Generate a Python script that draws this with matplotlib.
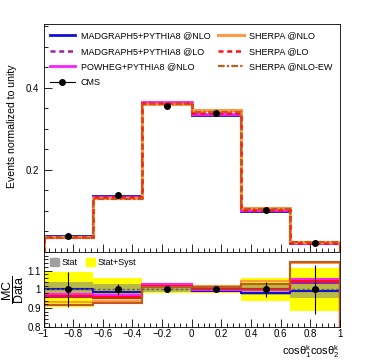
import numpy as np
import matplotlib
matplotlib.use('Agg')
import matplotlib.pyplot as plt
from matplotlib.lines import Line2D
from matplotlib.patches import Patch
from matplotlib.ticker import MultipleLocator

plt.rcParams['font.family'] = ['Liberation Sans', 'DejaVu Sans']
plt.rcParams['mathtext.fontset'] = 'custom'
plt.rcParams['mathtext.rm'] = 'Liberation Sans'
plt.rcParams['mathtext.it'] = 'Liberation Sans'

# bin edges of cos(theta1)cos(theta2)
edges = [-1, -2/3, -1/3, 0, 1/3, 2/3, 1]

# measured normalized distribution
data = [0.038, 0.139, 0.356, 0.338, 0.102, 0.021]

# MC / Data ratios
r_mg_nlo = [1.000, 0.986, 1.010, 0.990, 0.983, 0.990]
r_mg_lo = [0.960, 0.955, 1.015, 0.995, 1.000, 1.035]
r_powheg = [0.974, 0.970, 1.026, 0.997, 0.995, 1.053]
r_sh_nlo = [0.930, 0.940, 1.015, 1.020, 1.045, 1.140]
r_sh_lo = [0.965, 0.960, 1.020, 1.000, 1.000, 1.045]
r_sh_ew = [0.918, 0.928, 1.010, 1.010, 1.030, 1.144]

# relative uncertainties
stat_unc = [0.040, 0.030, 0.015, 0.015, 0.030, 0.045]
tot_unc = [0.093, 0.062, 0.020, 0.020, 0.060, 0.114]
data_err = [0.095, 0.030, 0.015, 0.012, 0.042, 0.130]

edges = np.array(edges)
data = np.array(data)
centers = 0.5 * (edges[1:] + edges[:-1])

models = [
    ('MADGRAPH5+PYTHIA8 @NLO', r_mg_nlo, '#1010d0', '-', 2.0),
    ('MADGRAPH5+PYTHIA8 @LO', r_mg_lo, '#a020a0', (0, (2, 1.5)), 1.8),
    ('POWHEG+PYTHIA8 @NLO', r_powheg, '#ff20ff', '-', 2.0),
    ('SHERPA @NLO', r_sh_nlo, '#ff9a40', '-', 2.2),
    ('SHERPA @LO', r_sh_lo, '#ff1010', (0, (2, 1.5)), 1.8),
    ('SHERPA @NLO-EW', r_sh_ew, '#c05a20', (0, (3, 1, 1, 1)), 1.6),
]

fig = plt.figure(figsize=(3.7, 3.6), dpi=100)
ax = fig.add_axes([0.1176, 0.3, 0.801, 0.6333])
rax = fig.add_axes([0.1176, 0.0925, 0.801, 0.2075])

# upper panel
handles = {}
for name, r, c, ls, lw in models:
    ax.stairs(data * np.array(r), edges, color=c, linestyle=ls, linewidth=lw)
    handles[name] = Line2D([], [], color=c, linestyle=ls, linewidth=lw)
ax.errorbar(centers, data, yerr=data * np.array(data_err) * 0.1, fmt='o',
            color='black', markersize=4, linewidth=0.8, zorder=5)
handles['CMS'] = Line2D([], [], color='black', marker='o', markersize=4, linewidth=0.8)

order = ['MADGRAPH5+PYTHIA8 @NLO', 'MADGRAPH5+PYTHIA8 @LO', 'POWHEG+PYTHIA8 @NLO', 'CMS',
         'SHERPA @NLO', 'SHERPA @LO', 'SHERPA @NLO-EW']
ax.legend([handles[k] for k in order], order, loc='upper left', ncol=2, frameon=False,
          fontsize=6.5, handlelength=2.8, handletextpad=0.6, columnspacing=0.9,
          labelspacing=0.72, bbox_to_anchor=(0.0, 0.995), borderaxespad=0.3)

ax.set_xlim(-1, 1)
ax.set_ylim(0, 0.555)
ax.set_yticks([0.2, 0.4])
ax.yaxis.set_minor_locator(MultipleLocator(0.05))
ax.xaxis.set_major_locator(MultipleLocator(0.2))
ax.xaxis.set_minor_locator(MultipleLocator(0.04))
ax.tick_params(axis='x', labelbottom=False)
ax.tick_params(which='both', direction='in', labelsize=7, width=0.6)
ax.tick_params(which='major', length=6)
ax.tick_params(which='minor', length=3)
ax.set_ylabel('Events normalized to unity', fontsize=7.6)
ax.yaxis.set_label_coords(-0.089, 0.55)
for s in ax.spines.values():
    s.set_linewidth(0.6)

# ratio panel
ones = np.ones(len(data))
rax.stairs(ones + np.array(tot_unc), edges, baseline=ones - np.array(tot_unc),
           fill=True, color='#ffff00', linewidth=0)
rax.stairs(ones + np.array(stat_unc), edges, baseline=ones - np.array(stat_unc),
           fill=True, color='#808080', alpha=0.55, linewidth=0)
rax.axhline(1.0, color='#606060', linestyle=(0, (2, 1.5)), linewidth=1.0)
for name, r, c, ls, lw in models:
    rax.stairs(r, edges, color=c, linestyle='-', linewidth=1.5)
rax.errorbar(centers, ones, yerr=data_err, fmt='o', color='black', markersize=4,
             linewidth=0.8, zorder=5)
rax.legend([Patch(color='#a0a0a0'), Patch(color='#ffff00')], ['Stat', 'Stat+Syst'],
           loc='upper left', ncol=2, frameon=False, fontsize=6.5, handlelength=1.0,
           handleheight=1.0, handletextpad=0.3, columnspacing=0.9,
           bbox_to_anchor=(0.0, 1.0), borderaxespad=0.3)

rax.set_xlim(-1, 1)
rax.set_ylim(0.8, 1.2)
rax.set_yticks([0.8, 0.9, 1.0, 1.1])
rax.set_yticklabels(['0.8', '0.9', '1', '1.1'])
rax.yaxis.set_minor_locator(MultipleLocator(0.02))
rax.xaxis.set_minor_locator(MultipleLocator(0.04))
rax.set_xticks([-1, -0.8, -0.6, -0.4, -0.2, 0, 0.2, 0.4, 0.6, 0.8, 1])
rax.set_xticklabels(['\u22121', '\u22120.8', '\u22120.6', '\u22120.4', '\u22120.2', '0',
                     '0.2', '0.4', '0.6', '0.8', '1'])
rax.tick_params(which='both', direction='in', labelsize=7, width=0.6, pad=2)
rax.tick_params(which='major', length=6)
rax.tick_params(which='minor', length=3)
rax.set_ylabel(r'$\dfrac{\mathrm{MC}}{\mathrm{Data}}$', fontsize=9)
rax.yaxis.set_label_coords(-0.06, 0.5)
rax.set_xlabel(r'$\mathrm{cos\theta_{1}^{k}cos\theta_{2}^{k}}$', fontsize=8, loc='right')
rax.xaxis.set_label_coords(1.0, -0.22)
for s in rax.spines.values():
    s.set_linewidth(0.6)

fig.savefig('out.png', dpi=100)
